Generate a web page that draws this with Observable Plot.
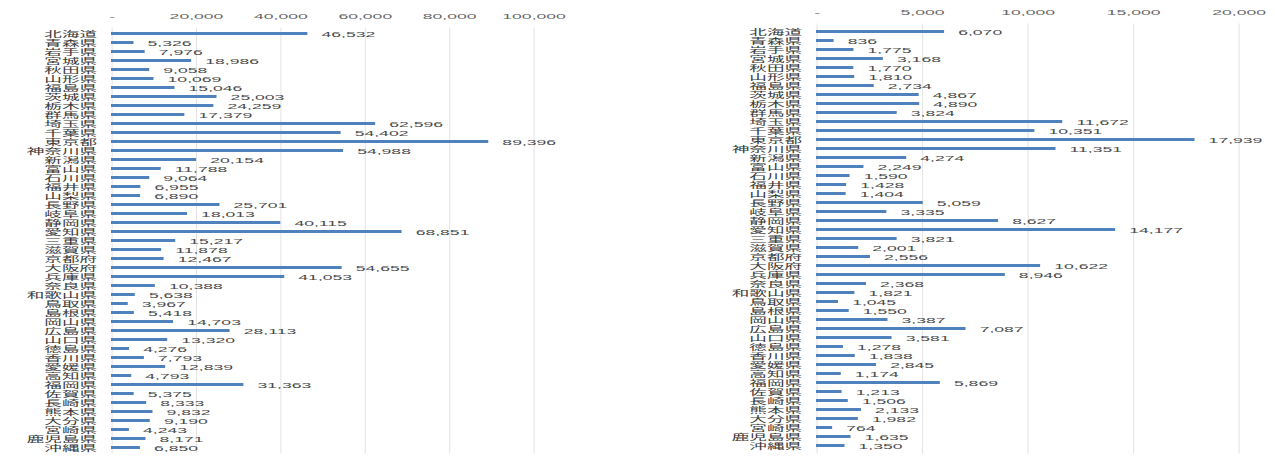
<!DOCTYPE html>
<html><head><meta charset="utf-8">
<script src="https://cdn.jsdelivr.net/npm/d3@7"></script>
<script src="https://cdn.jsdelivr.net/npm/@observablehq/plot@0.6"></script>
<style>
body{margin:0;background:#fff;}
#wrap{position:relative;width:1275px;height:459px;overflow:hidden;background:#fff;}
.panel{position:absolute;top:0;}
</style></head><body><div id="wrap"></div>
<script>
const prefectures = ["北海道","青森県","岩手県","宮城県","秋田県","山形県","福島県","茨城県","栃木県","群馬県","埼玉県","千葉県","東京都","神奈川県","新潟県","富山県","石川県","福井県","山梨県","長野県","岐阜県","静岡県","愛知県","三重県","滋賀県","京都府","大阪府","兵庫県","奈良県","和歌山県","鳥取県","島根県","岡山県","広島県","山口県","徳島県","香川県","愛媛県","高知県","福岡県","佐賀県","長崎県","熊本県","大分県","宮崎県","鹿児島県","沖縄県"];
const leftValues = [46532,5326,7976,18986,9058,10069,15046,25003,24259,17379,62596,54402,89396,54988,20154,11788,9064,6955,6890,25701,18013,40115,68851,15217,11878,12467,54655,41053,10388,5638,3967,5418,14703,28113,13320,4276,7793,12839,4793,31363,5375,8333,9832,9190,4243,8171,6850];
const rightValues = [6070,836,1775,3168,1770,1810,2734,4867,4890,3824,11672,10351,17939,11351,4274,2249,1590,1428,1404,5059,3335,8627,14177,3821,2001,2556,10622,8946,2368,1821,1045,1550,3387,7087,3581,1278,1838,2845,1174,5869,1213,1506,2133,1982,764,1635,1350];
const leftTicks = [0,20000,40000,60000,80000,100000];
const rightTicks = [0,5000,10000,15000,20000];

const K = 2.2; // horizontal stretch of the reference image
const fmt = d3.format(",");
const wrap = document.getElementById("wrap");

function panel({values, ticks, max, left, width, zeroX, endX, top, bottom, tickPad}) {
  const data = prefectures.map((p, i) => ({pref: p, value: values[i]}));
  const W = width / K;
  const plot = Plot.plot({
    width: W, height: 459,
    marginLeft: (zeroX - left) / K,
    marginRight: (left + width - endX) / K,
    marginTop: top, marginBottom: 459 - bottom,
    x: {domain: [0, max], label: null},
    y: {domain: prefectures, paddingInner: 0.65, paddingOuter: 0.325, label: null},
    style: {fontFamily: "'Liberation Sans', 'Noto Sans CJK JP', sans-serif", fontSize: "8px", background: "#fff"},
    marks: [
      Plot.ruleX(ticks, {x: d => d, stroke: "#d9d9d9", strokeWidth: 1 / K}),
      Plot.barX(data, {x: "value", y: "pref", fill: "#4f81bd"}),
      Plot.text(data, {x: "value", y: "pref", text: d => fmt(d.value), textAnchor: "start", dx: 13 / K, fill: "#4a4a4a", fontSize: 8}),
      Plot.axisX(ticks, {anchor: "top", label: null, tickSize: 0, tickPadding: tickPad, tickFormat: d => d === 0 ? "-" : fmt(d), fill: "#666", fontSize: 8}),
      Plot.axisY({anchor: "left", label: null, tickSize: 0, tickPadding: 15 / K, fill: "#3a3a3a", fontSize: 8})
    ]
  });
  plot.setAttribute("width", width);
  plot.setAttribute("preserveAspectRatio", "none");
  plot.style.width = width + "px";
  plot.style.height = "459px";
  plot.style.maxWidth = "none";
  const div = document.createElement("div");
  div.className = "panel";
  div.style.left = left + "px";
  div.appendChild(plot);
  wrap.appendChild(div);
}

panel({values: leftValues, ticks: leftTicks, max: 100000, left: 0, width: 640, zeroX: 111, endX: 533, top: 27.5, bottom: 453.5, tickPad: 9.5});
panel({values: rightValues, ticks: rightTicks, max: 20000, left: 655, width: 620, zeroX: 816, endX: 1238, top: 23.4, bottom: 453.6, tickPad: 8.5});
</script></body></html>
